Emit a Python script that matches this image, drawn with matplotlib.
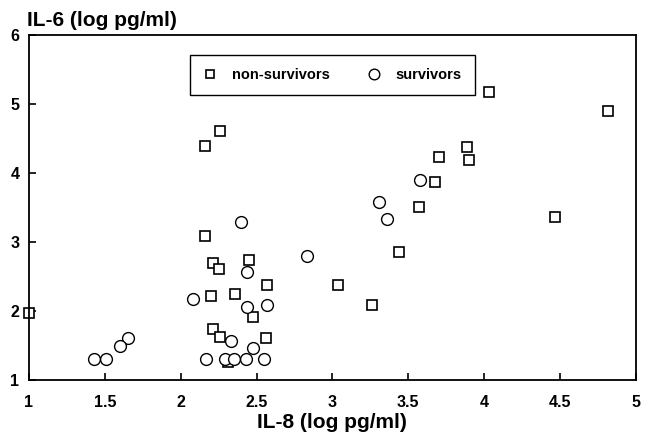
"""Scatter: IL-6 vs IL-8 (log pg/ml), non-survivors vs survivors."""
import matplotlib
matplotlib.use("Agg")
import matplotlib.pyplot as plt

# non-survivors (squares)
ns_il8 = [1.00, 2.16, 2.26, 2.16, 2.21, 2.25, 2.45, 2.57, 2.20, 2.36, 2.48,
          2.21, 2.26, 2.56, 2.31, 4.03, 4.82, 3.70, 3.89, 3.90, 3.68, 3.57,
          4.47, 3.44, 3.04, 3.26]
ns_il6 = [1.97, 4.39, 4.61, 3.09, 2.70, 2.61, 2.74, 2.38, 2.22, 2.25, 1.91,
          1.74, 1.62, 1.61, 1.26, 5.17, 4.90, 4.23, 4.38, 4.19, 3.87, 3.51,
          3.36, 2.86, 2.38, 2.09]

# survivors (circles)
s_il8 = [3.58, 3.31, 3.36, 2.83, 2.40, 2.44, 2.08, 2.44, 2.57, 1.65, 1.60,
         1.43, 1.51, 2.33, 2.48, 2.17, 2.29, 2.35, 2.43, 2.55]
s_il6 = [3.90, 3.58, 3.33, 2.80, 3.29, 2.57, 2.17, 2.06, 2.09, 1.61, 1.49,
         1.31, 1.31, 1.57, 1.46, 1.31, 1.31, 1.31, 1.31, 1.31]

xticks = [1, 1.5, 2, 2.5, 3, 3.5, 4, 4.5, 5]
xticklabels = ["1", "1.5", "2", "2.5", "3", "3.5", "4", "4.5", "5"]
yticks = [1, 2, 3, 4, 5, 6]

plt.rcParams["font.family"] = ["Liberation Sans", "DejaVu Sans"]

fig = plt.figure(figsize=(6.5, 4.34), dpi=100)
ax = fig.add_axes([0.0446, 0.1244, 0.9334, 0.7946])

ax.plot(ns_il8, ns_il6, ls="none", marker="s", ms=7, mfc="white",
        mec="black", mew=1.2, label="non-survivors", clip_on=False)
ax.plot(s_il8, s_il6, ls="none", marker="o", ms=8.5, mfc="white",
        mec="black", mew=1.0, label="survivors", clip_on=False)

ax.set_xlim(1, 5)
ax.set_ylim(1, 6)
ax.set_xticks(xticks)
ax.set_xticklabels(xticklabels)
ax.set_yticks(yticks)
ax.tick_params(direction="in", length=5, width=1.2, labelsize=11.5, pad=11)
ax.tick_params(axis="y", pad=7)
for lab in ax.get_xticklabels() + ax.get_yticklabels():
    lab.set_fontweight("bold")
for s in ax.spines.values():
    s.set_linewidth(1.3)

ax.set_xlabel("IL-8 (log pg/ml)", fontsize=15, fontweight="bold", labelpad=2)
ax.text(-0.003, 1.015, "IL-6 (log pg/ml)", transform=ax.transAxes,
        ha="left", va="bottom", fontsize=15, fontweight="bold")

leg = ax.legend(loc="upper left", bbox_to_anchor=(0.265, 0.942), ncol=2,
                fancybox=False, framealpha=1, edgecolor="black",
                prop={"weight": "bold", "size": 10.5}, handlelength=1.0,
                columnspacing=2.5, borderpad=0.9, handletextpad=1.0,
                borderaxespad=0, markerscale=0.9)
leg.get_frame().set_linewidth(1.0)

fig.savefig("out.png", dpi=100)
